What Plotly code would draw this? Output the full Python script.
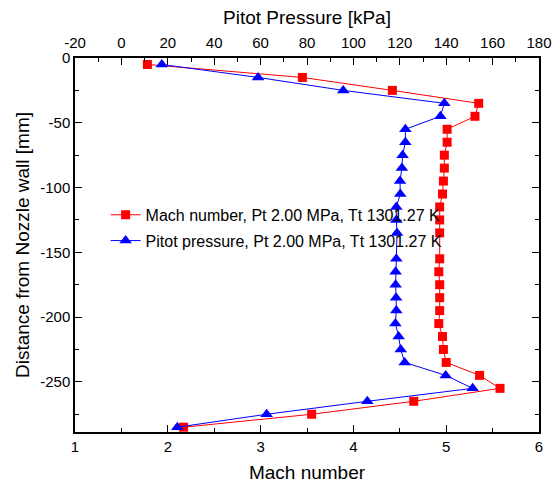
import plotly.graph_objects as go

# Distance from nozzle wall [mm]
distance_mach = [-5, -15, -25, -35, -45, -55, -65, -75, -85, -95, -105, -115, -125, -135,
                 -155, -165, -175, -185, -195, -205, -215, -225, -235, -245, -255, -265, -275, -285]
mach_number = [1.78, 3.45, 4.42, 5.35, 5.31, 5.01, 5.01, 4.98, 4.98, 4.97, 4.96, 4.93, 4.93, 4.93,
               4.93, 4.92, 4.93, 4.93, 4.93, 4.92, 4.96, 4.97, 5.00, 5.36, 5.58, 4.65, 3.55, 2.17]

distance_pitot = [-5, -15, -25, -35, -45, -55, -65, -75, -85, -95, -105, -115, -125, -135,
                  -155, -165, -175, -185, -195, -205, -215, -225, -235, -245, -255, -265, -275, -285]
pitot_kpa = [17.4, 58.9, 95.6, 139.2, 137.5, 122.4, 122.4, 121.2, 120.9, 120.1, 120.2, 118.5, 118.5, 118.8,
             118.5, 118.2, 118.2, 118.4, 118.5, 118.1, 119.5, 120.4, 122.1, 139.8, 151.4, 106.0, 62.6, 24.1]

mach_ticks = [1, 2, 3, 4, 5, 6]
pitot_ticks = [-20, 0, 20, 40, 60, 80, 100, 120, 140, 160, 180]
dist_ticks = [0, -50, -100, -150, -200, -250]

label_mach = "Mach number, Pt 2.00 MPa, Tt 1301.27 K"
label_pitot = "Pitot pressure, Pt 2.00 MPa, Tt 1301.27 K"

FONT = "Arial, Liberation Sans, sans-serif"
TITLE_SIZE = 19
TICK_SIZE = 15

fig = go.Figure()
fig.add_trace(go.Scatter(
    x=mach_number, y=distance_mach, name=label_mach, mode="lines+markers",
    line=dict(color="#ff0000", width=1),
    marker=dict(symbol="square", size=9, color="#ff0000"),
    legendgroup="a", xaxis="x", yaxis="y"))
fig.add_trace(go.Scatter(
    x=pitot_kpa, y=distance_pitot, name=label_pitot, mode="lines+markers",
    line=dict(color="#0000ff", width=1),
    marker=dict(symbol="triangle-up", size=11, color="#0000ff"),
    legendgroup="b", xaxis="x2", yaxis="y"))

axis_common = dict(
    showgrid=False, zeroline=False, showline=True, linecolor="black", linewidth=1.5,
    ticks="inside", ticklen=7, tickwidth=1.3, tickcolor="black",
    tickfont=dict(family=FONT, size=TICK_SIZE, color="black"),
)

fig.update_layout(
    width=560, height=490,
    paper_bgcolor="white", plot_bgcolor="white",
    margin=dict(l=75, r=21, t=58, b=58, autoexpand=False),
    font=dict(family=FONT, color="black"),
    xaxis=dict(
        range=[1, 6], tickvals=mach_ticks, ticktext=[str(v) for v in mach_ticks],
        minor=dict(dtick=0.5, ticks="inside", ticklen=4, tickwidth=1.3, tickcolor="black"),
        title=dict(text="Mach number", font=dict(family=FONT, size=TITLE_SIZE, color="black"), standoff=12),
        **axis_common),
    xaxis2=dict(
        range=[-20, 180], overlaying="x", side="top", anchor="y",
        tickvals=pitot_ticks, ticktext=[str(v) for v in pitot_ticks],
        minor=dict(dtick=10, tick0=-20, ticks="inside", ticklen=4, tickwidth=1.3, tickcolor="black"),
        ticklabelstandoff=2,
        title=dict(text="Pitot Pressure [kPa]", font=dict(family=FONT, size=TITLE_SIZE, color="black"), standoff=5),
        **axis_common),
    yaxis=dict(
        range=[-288.7, 0], mirror="ticks",
        tickvals=dist_ticks, ticktext=[str(v) for v in dist_ticks],
        minor=dict(dtick=25, tick0=0, ticks="inside", ticklen=4, tickwidth=1.3, tickcolor="black"),
        title=dict(text="Distance from Nozzle wall [mm]", font=dict(family=FONT, size=TITLE_SIZE, color="black"), standoff=6),
        **axis_common),
    legend=dict(
        x=0.066, y=0.626, xanchor="left", yanchor="top",
        bgcolor="rgba(0,0,0,0)", borderwidth=0,
        font=dict(family=FONT, size=16, color="black"),
        tracegroupgap=2, itemsizing="trace",
    ),
    showlegend=True,
)

fig.write_html("out.html", config={"displayModeBar": False},
               post_script="document.body.style.margin='0';document.body.style.padding='0';")
